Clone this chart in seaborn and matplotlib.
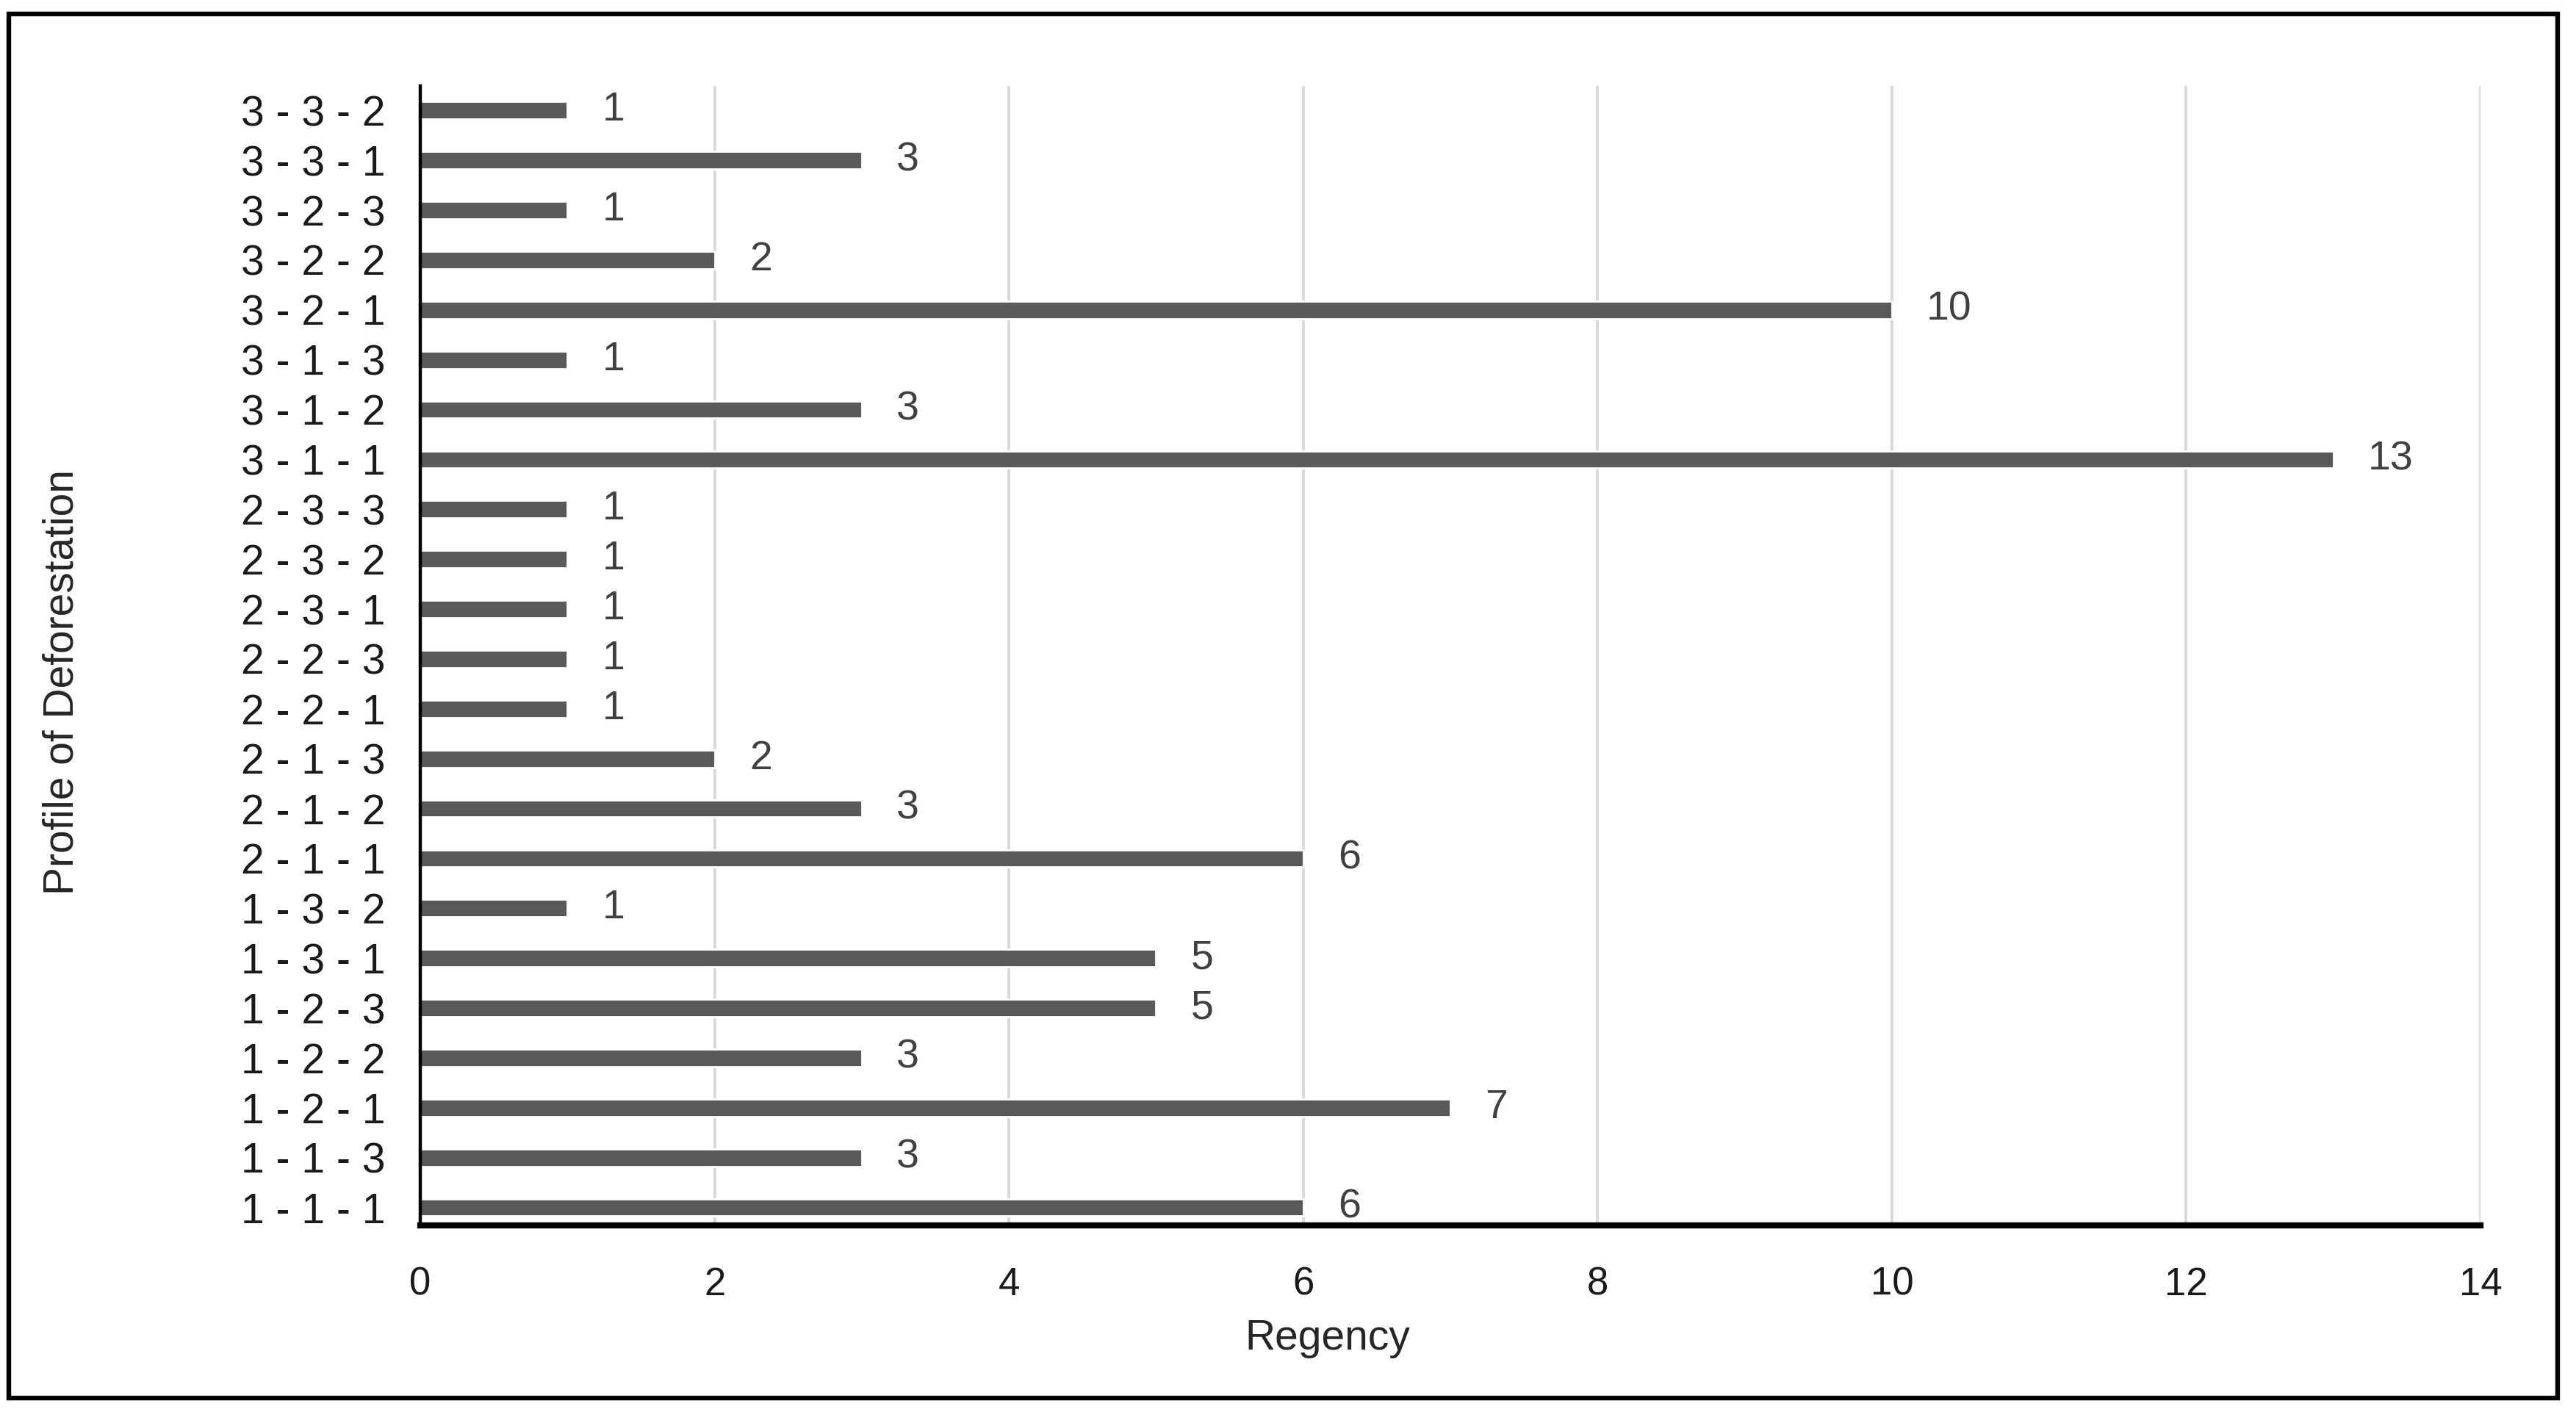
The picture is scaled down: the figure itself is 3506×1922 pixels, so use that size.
import matplotlib
matplotlib.use("Agg")
import matplotlib.pyplot as plt
import seaborn as sns
import pandas as pd
from matplotlib.patches import Rectangle

profiles = ["3 - 3 - 2", "3 - 3 - 1", "3 - 2 - 3", "3 - 2 - 2", "3 - 2 - 1", "3 - 1 - 3",
            "3 - 1 - 2", "3 - 1 - 1", "2 - 3 - 3", "2 - 3 - 2", "2 - 3 - 1", "2 - 2 - 3",
            "2 - 2 - 1", "2 - 1 - 3", "2 - 1 - 2", "2 - 1 - 1", "1 - 3 - 2", "1 - 3 - 1",
            "1 - 2 - 3", "1 - 2 - 2", "1 - 2 - 1", "1 - 1 - 3", "1 - 1 - 1"]
regency = [1, 3, 1, 2, 10, 1, 3, 13, 1, 1, 1, 1, 1, 2, 3, 6, 1, 5, 5, 3, 7, 3, 6]
x_ticks = [0, 2, 4, 6, 8, 10, 12, 14]

sns.set_theme(style="white")
plt.rcParams['font.family'] = ['Liberation Sans Narrow', 'Liberation Sans', 'DejaVu Sans']

df = pd.DataFrame({"profile": profiles, "regency": regency})

W, H, DPI = 3506, 1922, 200
fig = plt.figure(figsize=(W / DPI, H / DPI), dpi=DPI)
ax = fig.add_axes([572 / W, 1 - 1668 / H, (3376 - 572) / W, (1668 - 117) / H])

sns.barplot(data=df, x="regency", y="profile", order=profiles, color="#595959",
            width=0.35, saturation=1, ax=ax, orient="h")

ax.set_xlim(0, 14)
ax.set_ylim(len(profiles) - 1 + 0.36, -0.49)
ax.set_xticks(x_ticks)
ax.set_xticklabels([str(t) for t in x_ticks])
ax.xaxis.grid(True, color="#d9d9d9", linewidth=1.4)
ax.yaxis.grid(False)
ax.set_axisbelow(True)

for s in ["top", "right"]:
    ax.spines[s].set_visible(False)
ax.spines["left"].set_color("black")
ax.spines["left"].set_linewidth(1.6)
ax.spines["bottom"].set_color("black")
ax.spines["bottom"].set_linewidth(3)

ax.tick_params(axis="y", length=0, labelsize=20.5, colors="#1a1a1a", pad=17)
ax.tick_params(axis="x", length=0, labelsize=19, colors="#1a1a1a", pad=20)

for cont in ax.containers:
    ax.bar_label(cont, labels=[str(v) for v in regency], padding=17, fontsize=20,
                 color="#404040")

ax.set_xlabel("")
ax.set_ylabel("")
fig.text(1807 / W, 1 - 1822 / H, "Regency", fontsize=20.5, color="#262626",
         ha="center", va="center")
fig.text(85 / W, 1 - 928 / H, "Profile of Deforestation", fontsize=20.5, color="#262626",
         ha="center", va="center", rotation=90)

fig.patches.append(Rectangle((12 / W, 1 - 1903 / H), (3481 - 12) / W, (1903 - 19) / H,
                             transform=fig.transFigure, fill=False, edgecolor="black",
                             linewidth=2.3, figure=fig))

fig.savefig("out.png", dpi=DPI, facecolor="white")
